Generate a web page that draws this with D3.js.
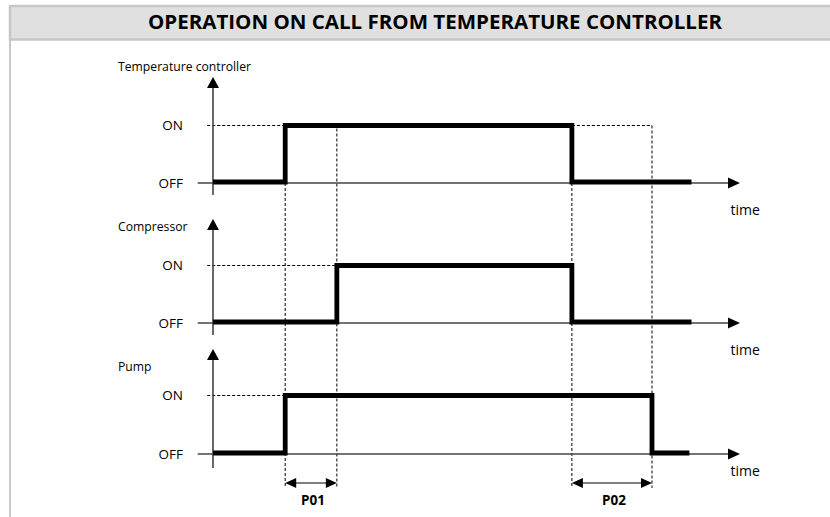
<!DOCTYPE html>
<html>
<head>
<meta charset="utf-8">
<script src="https://cdn.jsdelivr.net/npm/d3@7"></script>
<style>
	body{margin:0;background:#fff;}
	text{font-family:"Open Sans",sans-serif;fill:#000;}
</style>
</head>
<body>
<div id="chart"></div>
<script>

// time units on the horizontal axis (0 = vertical axis)
var title="OPERATION ON CALL FROM TEMPERATURE CONTROLLER";
var signalNames=["Temperature controller","Compressor","Pump"];
var stateLabels=["OFF","ON"];

var tempCtrl=[{t:0,v:0},{t:13.7,v:1},{t:68.1,v:0},{t:90.8,v:0}];
var compressor=[{t:0,v:0},{t:23.5,v:1},{t:68.1,v:0},{t:90.8,v:0}];
var pump=[{t:0,v:0},{t:13.7,v:1},{t:83.3,v:0},{t:90.4,v:0}];

// delays shown under the chart
var delays=[{name:"P01",from:13.7,to:23.5},{name:"P02",from:68.1,to:83.3}];

var WIDTH=830,
	HEIGHT=517;

// panel layout: pixel rows of OFF / ON for each signal
var panels=[
	{data:tempCtrl,off:182,on:125.5,axis:183,axisTop:77,axisBottom:195,name:67,time:215},
	{data:compressor,off:322,on:265.5,axis:323,axisTop:219,axisBottom:335,name:227,time:355},
	{data:pump,off:453,on:395.5,axis:454,axisTop:349,axisBottom:468,name:367,time:476}
];

var x=d3.scaleLinear().domain([0,100]).range([213,740]);

var svg=d3.select("#chart")
			.append("svg")
				.attr("width",WIDTH)
				.attr("height",HEIGHT);

// frame + header
svg.append("line")
	.attr("x1",10).attr("x2",10)
	.attr("y1",5).attr("y2",HEIGHT)
	.style("stroke","#c8c8c8")
	.style("stroke-width",2);

svg.append("rect")
	.attr("x",10).attr("y",6)
	.attr("width",WIDTH).attr("height",33.5)
	.style("fill","#e0e0e0")
	.style("stroke","#c6c6c6")
	.style("stroke-width",2.5);

svg.append("text")
	.attr("x",435).attr("y",29)
	.attr("text-anchor","middle")
	.attr("textLength",574)
	.attr("lengthAdjust","spacingAndGlyphs")
	.style("font-weight","bold")
	.style("font-size","19px")
	.text(title);

function arrowUp(g,cx,tip){
	g.append("path")
		.attr("d","M"+cx+","+tip+"L"+(cx+6)+","+(tip+11)+"L"+(cx-6)+","+(tip+11)+"Z")
		.style("fill","#000");
}
function arrowRight(g,tip,cy){
	g.append("path")
		.attr("d","M"+tip+","+cy+"L"+(tip-12)+","+(cy-5.5)+"L"+(tip-12)+","+(cy+5.5)+"Z")
		.style("fill","#000");
}

var guides=svg.append("g"),
	axes=svg.append("g"),
	signals=svg.append("g");

panels.forEach(function(p,i){
	var y=d3.scaleLinear().domain([0,1]).range([p.off,p.on]);

	// axes
	axes.append("line")
		.attr("x1",x(0)).attr("x2",x(0))
		.attr("y1",p.axisTop+8).attr("y2",p.axisBottom)
		.style("stroke","#444").style("stroke-width",1.6);
	arrowUp(axes,x(0),p.axisTop);

	axes.append("line")
		.attr("x1",x(-2.9)).attr("x2",x(98))
		.attr("y1",p.axis).attr("y2",p.axis)
		.style("stroke","#444").style("stroke-width",1.3);
	arrowRight(axes,x(100),p.axis);

	axes.append("text")
		.attr("x",x(98.2)).attr("y",p.time)
		.style("font-size","14px")
		.text("time");

	axes.append("text")
		.attr("x",118).attr("y",p.name+4)
		.style("font-size","12.2px")
		.text(signalNames[i]);

	stateLabels.forEach(function(s,v){
		axes.append("text")
			.attr("x",183).attr("y",(v?y(1):p.axis)+1)
			.attr("text-anchor","end")
			.attr("dominant-baseline","middle")
			.style("font-size","13.5px")
			.text(s);
	});

	// ON reference dash up to the first rise
	var rise=p.data.filter(function(d){return d.v==1;})[0].t;
	guides.append("line")
		.attr("x1",x(-1.1)).attr("x2",x(rise))
		.attr("y1",y(1)).attr("y2",y(1))
		.attr("class","dash");

	var line=d3.line()
		.curve(d3.curveStepAfter)
		.x(function(d){return x(d.t);})
		.y(function(d){return y(d.v);});

	signals.append("path")
		.attr("d",line(p.data))
		.style("fill","none")
		.style("stroke","#000")
		.style("stroke-width",4.8)
		.style("stroke-linejoin","miter");
});

// dashed verticals for the delays
var y0=d3.scaleLinear().domain([0,1]).range([panels[0].axis,panels[0].on]);
guides.append("line")
	.attr("x1",x(13.7)).attr("x2",x(13.7))
	.attr("y1",y0(0)).attr("y2",487).attr("class","dash");
guides.append("line")
	.attr("x1",x(23.5)).attr("x2",x(23.5))
	.attr("y1",y0(1)+3).attr("y2",487).attr("class","dash");
guides.append("line")
	.attr("x1",x(68.1)).attr("x2",x(68.1))
	.attr("y1",y0(0)).attr("y2",488).attr("class","dash");
guides.append("line")
	.attr("x1",x(83.3)).attr("x2",x(83.3))
	.attr("y1",panels[0].on).attr("y2",488).attr("class","dash");
guides.append("line")
	.attr("x1",x(68.1)).attr("x2",x(83.3))
	.attr("y1",panels[0].on).attr("y2",panels[0].on).attr("class","dash");

guides.selectAll("line.dash")
	.style("stroke","#000")
	.style("stroke-width",1)
	.style("stroke-dasharray","3,2");

// delay dimension arrows
var dims=svg.append("g").selectAll("g")
			.data(delays)
			.enter()
				.append("g");

dims.append("line")
	.attr("x1",function(d){return x(d.from)+8;})
	.attr("x2",function(d){return x(d.to)-8;})
	.attr("y1",483).attr("y2",483)
	.style("stroke","#000").style("stroke-width",1.2);

dims.append("path")
	.attr("d",function(d){
		var a=x(d.from),b=x(d.to),c=483;
		return "M"+a+","+c+"L"+(a+11)+","+(c-5)+"L"+(a+11)+","+(c+5)+"Z"+
			"M"+b+","+c+"L"+(b-11)+","+(c-5)+"L"+(b-11)+","+(c+5)+"Z";
	})
	.style("fill","#000");

dims.append("text")
	.attr("x",function(d){return (x(d.from)+x(d.to))/2+2;})
	.attr("y",505)
	.attr("text-anchor","middle")
	.style("font-weight","bold")
	.style("font-size","13.5px")
	.text(function(d){return d.name;});

</script>
</body>
</html>
